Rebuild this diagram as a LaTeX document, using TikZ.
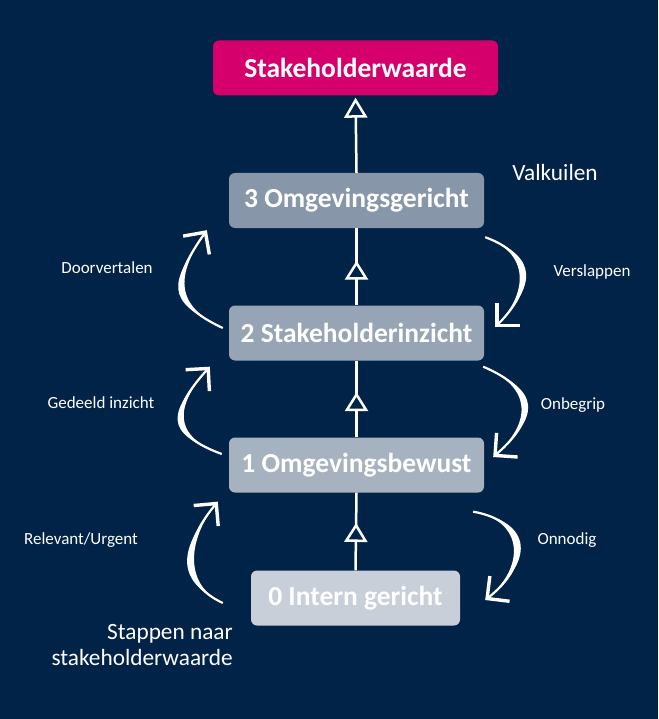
\documentclass[tikz,border=0pt]{standalone}
\usepackage{fontspec}
\setmainfont{Carlito}
\usepackage{xcolor}
\usepackage{tikz}
\usetikzlibrary{arrows.meta, calc, decorations.markings}

\definecolor{navy}{RGB}{1,35,72}
\definecolor{roze}{RGB}{214,0,108}
\definecolor{grijs3}{RGB}{135,150,168}
\definecolor{grijs2}{RGB}{150,164,181}
\definecolor{grijs1}{RGB}{167,178,193}
\definecolor{grijs0}{RGB}{200,207,216}

\tikzset{
  stap/.style={rounded corners=6pt, minimum width=255pt, minimum height=55pt, inner sep=0pt, text=white, font=\fontsize{27.5}{32}\selectfont\bfseries},
  lbl/.style={text=white, inner sep=0pt, font=\fontsize{17}{20}\selectfont},
  kopje/.style={text=white, inner sep=0pt, font=\fontsize{23.3}{26}\selectfont},
  krijt/.style={white, line width=2.5pt},
  omhoog/.style={krijt, postaction={decorate}, decoration={markings, mark=at position #1 with {\arrow{Triangle[width=23pt,length=19pt,fill=navy,line width=2.5pt]}}}},
  haak/.style={white, line width=2.2pt, -{Straight Barb[length=16pt,width=32pt,line width=3.4pt]}}
}

\begin{document}
\begin{tikzpicture}[x=1pt,y=1pt]
\useasboundingbox (0,0) rectangle (658,-719);
\fill[navy] (0,0) rectangle (658,-719);

% stappen
\node[stap, fill=roze, minimum width=285pt] (sw) at (355.5,-68) {Stakeholderwaarde};
\node[stap, fill=grijs3] (s3) at (356.5,-200.5) {3 Omgevingsgericht};
\node[stap, fill=grijs2] (s2) at (356.5,-333) {2 Stakeholderinzicht};
\node[stap, fill=grijs1] (s1) at (356.5,-465) {1 Omgevingsbewust};
\node[stap, fill=grijs0, minimum width=209pt] (s0) at (355.5,-598) {0 Intern gericht};

% pijlen omhoog
\draw[omhoog=0.61] (s0.north) -- (s1.south);
\draw[omhoog=0.59] (s1.north) -- (s2.south);
\draw[omhoog=0.58] (s2.north) -- (s3.south);
\draw[krijt, shorten >=2pt, -{Triangle[width=23pt,length=20pt,fill=navy,line width=2.5pt]}] (s3.north) -- (sw.south);

% bogen links
\coordinate (l1a) at ($(s2.west)+(-6,5)$);
\coordinate (l1b) at ($(s3.south west)+(-22,-2)$);
\coordinate (l2a) at ($(s1.west)+(-7,11)$);
\coordinate (l2b) at ($(s2.south west)+(-19,-6)$);
\coordinate (l3a) at ($(s0.west)+(-28,-5)$);
\coordinate (l3b) at ($(s1.south west)+(-11,-9)$);
\fill[white] (l1a) to[out=155,in=235,looseness=1.70] (l1b) to[out=235,in=155,looseness=1.40] (l1a);
\draw[haak] (l1a) to[out=155,in=235,looseness=1.55] (l1b);
\fill[white] (l2a) to[out=160,in=228,looseness=1.84] (l2b) to[out=228,in=160,looseness=1.54] (l2a);
\draw[haak] (l2a) to[out=160,in=228,looseness=1.69] (l2b);
\fill[white] (l3a) to[out=155,in=230,looseness=1.44] (l3b) to[out=230,in=155,looseness=1.14] (l3a);
\draw[haak] (l3a) to[out=155,in=230,looseness=1.29] (l3b);

% bogen rechts
\coordinate (r1a) at ($(s3.south east)+(1,-9)$);
\coordinate (r1b) at ($(s2.east)+(11,6)$);
\coordinate (r2a) at ($(s2.south east)+(-1,-6)$);
\coordinate (r2b) at ($(s1.east)+(9,8)$);
\coordinate (r3a) at ($(s1.south east)+(-11,-19)$);
\coordinate (r3b) at ($(s0.east)+(25,-2)$);
\fill[white] (r1a) to[out=-20,in=45,looseness=1.65] (r1b) to[out=45,in=-20,looseness=1.35] (r1a);
\draw[haak] (r1a) to[out=-20,in=45,looseness=1.5] (r1b);
\fill[white] (r2a) to[out=-23,in=41,looseness=1.79] (r2b) to[out=41,in=-23,looseness=1.49] (r2a);
\draw[haak] (r2a) to[out=-23,in=41,looseness=1.64] (r2b);
\fill[white] (r3a) to[out=-10,in=38,looseness=1.79] (r3b) to[out=38,in=-10,looseness=1.49] (r3a);
\draw[haak] (r3a) to[out=-10,in=38,looseness=1.64] (r3b);

% teksten
\node[lbl] (doorvertalen) at (107,-268) {Doorvertalen};
\node[lbl] (gedeeld) at (101,-403) {Gedeeld inzicht};
\node[lbl] (relevant) at (81,-540) {Relevant/Urgent};
\node[lbl] (verslappen) at (592,-272) {Verslappen};
\node[lbl] (onbegrip) at (573,-405) {Onbegrip};
\node[lbl] (onnodig) at (567,-540) {Onnodig};
\node[kopje] (valkuilen) at (555,-172) {Valkuilen};
\node[kopje, align=right, anchor=north east] (stappen) at (233,-624) {Stappen naar\\stakeholderwaarde};
\end{tikzpicture}
\end{document}
